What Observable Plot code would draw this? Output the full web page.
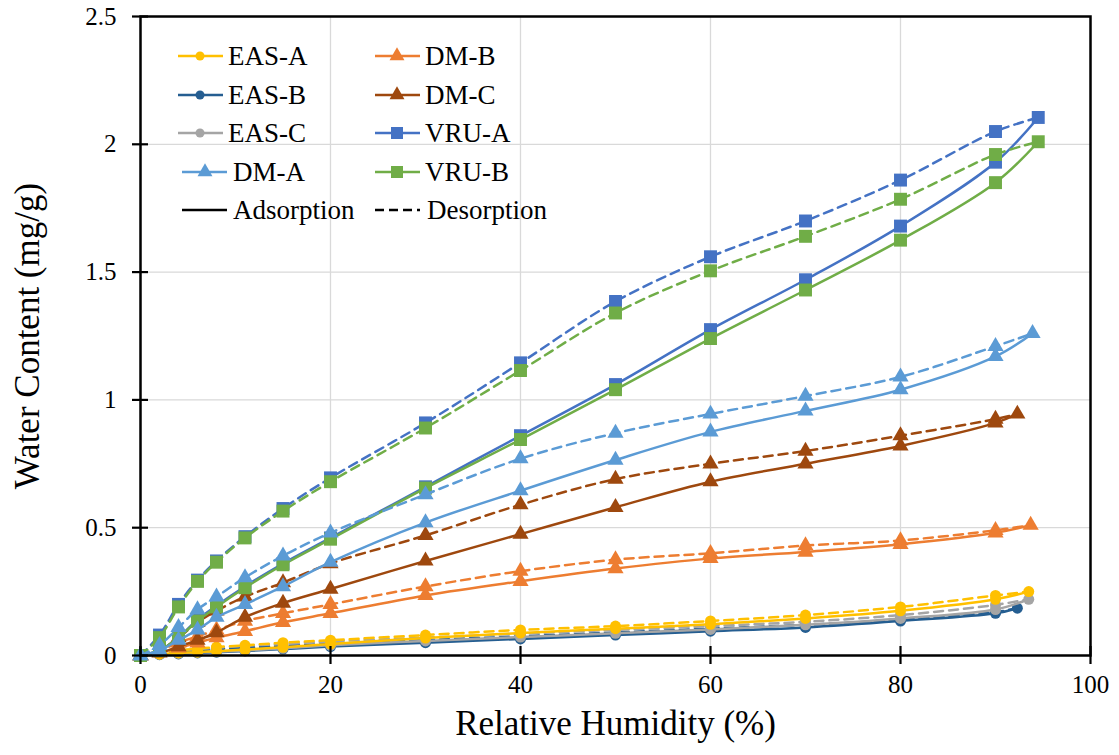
<!DOCTYPE html>
<html>
<head>
<meta charset="utf-8">
<script src="https://cdn.jsdelivr.net/npm/d3@7"></script>
<script src="https://cdn.jsdelivr.net/npm/@observablehq/plot@0.6"></script>
<style>
  html, body { margin: 0; padding: 0; background: #fff; }
  #wrap { position: relative; width: 1119px; height: 755px; }
  #legend { position: absolute; left: 0; top: 0; pointer-events: none; }
</style>
</head>
<body>
<div id="wrap"></div>
<script>
// ---- data ----
const rh = [0, 2, 4, 6, 8, 11, 15, 20, 30, 40, 50, 60, 70, 80, 90];
const names = ["EAS-A", "EAS-B", "EAS-C", "DM-A", "DM-B", "DM-C", "VRU-A", "VRU-B"];
const colors = ["#FFC000", "#255E91", "#A5A5A5", "#5B9BD5", "#ED7D31", "#9E480E", "#4472C4", "#70AD47"];
const symbols = ["circle", "circle", "circle", "triangle", "triangle", "triangle", "square", "square"];
const rhTop = [93.5, 92.3, 93.5, 93.9, 93.7, 92.3, 94.5, 94.5];
const wcTop = [0.25, 0.185, 0.22, 1.26, 0.51, 0.945, 2.105, 2.01];

const easA_ads = [0, 0.005, 0.01, 0.013, 0.017, 0.023, 0.032, 0.045, 0.068, 0.088, 0.105, 0.122, 0.145, 0.175, 0.22];
const easA_des = [0, 0.012, 0.02, 0.027, 0.033, 0.04, 0.05, 0.06, 0.08, 0.1, 0.115, 0.135, 0.158, 0.19, 0.235];
const easB_ads = [0, 0.003, 0.006, 0.01, 0.013, 0.018, 0.025, 0.035, 0.05, 0.065, 0.08, 0.095, 0.11, 0.135, 0.165];
const easB_des = [0, 0.008, 0.015, 0.02, 0.025, 0.03, 0.038, 0.045, 0.06, 0.075, 0.09, 0.105, 0.12, 0.14, 0.17];
const easC_ads = [0, 0.004, 0.008, 0.012, 0.015, 0.02, 0.028, 0.04, 0.057, 0.072, 0.087, 0.102, 0.12, 0.145, 0.18];
const easC_des = [0, 0.012, 0.02, 0.025, 0.03, 0.038, 0.045, 0.055, 0.07, 0.085, 0.1, 0.115, 0.132, 0.158, 0.198];
const dmA_ads = [0, 0.02, 0.06, 0.1, 0.15, 0.2, 0.27, 0.365, 0.52, 0.645, 0.765, 0.875, 0.957, 1.04, 1.17];
const dmA_des = [0, 0.04, 0.11, 0.18, 0.23, 0.305, 0.39, 0.48, 0.63, 0.77, 0.87, 0.945, 1.015, 1.09, 1.21];
const dmB_ads = [0, 0.012, 0.03, 0.05, 0.07, 0.095, 0.13, 0.165, 0.235, 0.29, 0.34, 0.38, 0.405, 0.435, 0.48];
const dmB_des = [0, 0.02, 0.05, 0.075, 0.1, 0.135, 0.165, 0.2, 0.27, 0.33, 0.375, 0.40, 0.43, 0.45, 0.49];
const dmC_ads = [0, 0.01, 0.035, 0.06, 0.09, 0.15, 0.205, 0.26, 0.37, 0.475, 0.58, 0.68, 0.75, 0.82, 0.91];
const dmC_des = [0, 0.02, 0.07, 0.13, 0.175, 0.23, 0.285, 0.36, 0.47, 0.59, 0.69, 0.75, 0.80, 0.86, 0.925];
const vruA_ads = [0, 0.02, 0.07, 0.14, 0.195, 0.27, 0.36, 0.46, 0.66, 0.86, 1.06, 1.275, 1.47, 1.68, 1.93];
const vruA_des = [0, 0.08, 0.2, 0.295, 0.37, 0.465, 0.575, 0.695, 0.91, 1.145, 1.385, 1.56, 1.70, 1.86, 2.05];
const vruB_ads = [0, 0.02, 0.07, 0.135, 0.19, 0.265, 0.355, 0.455, 0.655, 0.845, 1.04, 1.24, 1.43, 1.625, 1.85];
const vruB_des = [0, 0.07, 0.19, 0.29, 0.365, 0.46, 0.565, 0.68, 0.89, 1.115, 1.34, 1.505, 1.64, 1.785, 1.96];

const adsAll = [easA_ads, easB_ads, easC_ads, dmA_ads, dmB_ads, dmC_ads, vruA_ads, vruB_ads];
const desAll = [easA_des, easB_des, easC_des, dmA_des, dmB_des, dmC_des, vruA_des, vruB_des];

const xTicks = [0, 20, 40, 60, 80, 100];
const yTicks = [0, 0.5, 1, 1.5, 2, 2.5];
const xTitle = "Relative Humidity (%)";
const yTitle = "Water Content (mg/g)";
const kindLabels = ["Adsorption", "Desorption"];

const font = "'Liberation Serif', 'Times New Roman', serif";

// ---- build tidy rows ----
const rows = [];
names.forEach((n, i) => {
  rh.forEach((x, j) => rows.push({name: n, kind: "ads", x, y: adsAll[i][j]}));
  rows.push({name: n, kind: "ads", x: rhTop[i], y: wcTop[i], top: true});
  rh.forEach((x, j) => rows.push({name: n, kind: "des", x, y: desAll[i][j]}));
  rows.push({name: n, kind: "des", x: rhTop[i], y: wcTop[i], top: true});
});

const symR = {circle: 5.5, triangle: 6, square: 7.3};
const drawOrder = ["EAS-B", "EAS-C", "EAS-A", "DM-B", "DM-C", "VRU-A", "VRU-B", "DM-A"];

const seriesMarks = [];
drawOrder.forEach(n => {
  const i = names.indexOf(n);
  const ads = rows.filter(d => d.name === n && d.kind === "ads");
  const des = rows.filter(d => d.name === n && d.kind === "des");
  seriesMarks.push(
    Plot.line(ads, {x: "x", y: "y", stroke: "name", strokeWidth: 2.5, curve: "catmull-rom"}),
    Plot.line(des, {x: "x", y: "y", stroke: "name", strokeWidth: 2.5, strokeDasharray: "9,6", curve: "catmull-rom"}),
    Plot.dot(des.filter(d => !d.top), {x: "x", y: "y", symbol: "name", fill: "name", r: symR[symbols[i]], stroke: "none"}),
    Plot.dot(ads, {x: "x", y: "y", symbol: "name", fill: "name", r: symR[symbols[i]], stroke: "none"})
  );
});

const chart = Plot.plot({
  width: 1119,
  height: 755,
  marginLeft: 140,
  marginRight: 29,
  marginTop: 16,
  marginBottom: 100,
  style: {fontFamily: font, color: "#000", background: "#fff"},
  x: {domain: [0, 100]},
  y: {domain: [0, 2.5]},
  color: {domain: names, range: colors},
  symbol: {domain: names, range: symbols},
  marks: [
    Plot.gridX([20, 40, 60, 80], {stroke: "#d9d9d9", strokeOpacity: 1, strokeWidth: 1.3}),
    Plot.gridY([0.5, 1, 1.5, 2], {stroke: "#d9d9d9", strokeOpacity: 1, strokeWidth: 1.3}),
    ...seriesMarks,
    Plot.frame({stroke: "#000", strokeWidth: 2.5}),
    Plot.axisX(xTicks, {tickSize: 18, dy: -9, tickFormat: () => "", strokeWidth: 2.2, label: null}),
    Plot.axisX(xTicks, {tickSize: 0, tickPadding: 20, fontSize: 25, label: null, fill: "#000", fontFamily: font}),
    Plot.axisY(yTicks, {tickSize: 16, dx: 8, tickFormat: () => "", strokeWidth: 2.2, label: null}),
    Plot.axisY(yTicks, {tickSize: 0, tickPadding: 24, fontSize: 25, label: null, fill: "#000", fontFamily: font, tickFormat: d => String(d)}),
    Plot.text([xTitle], {frameAnchor: "bottom", lineAnchor: "middle", textAnchor: "middle", dy: 68, fontSize: 35, fill: "#000", fontFamily: font, text: d => d}),
    Plot.text([yTitle], {frameAnchor: "left", lineAnchor: "middle", textAnchor: "middle", dx: -113, rotate: -90, fontSize: 35, fill: "#000", fontFamily: font, text: d => d})
  ]
});

const wrap = document.getElementById("wrap");
wrap.appendChild(chart);

// ---- legend overlay ----
const leg = d3.create("svg").attr("id", "legend").attr("width", 1119).attr("height", 755);
const rowsY = [56, 95, 133, 172, 210];
const legItems = [
  {col: 0, row: 0, i: 0}, {col: 0, row: 1, i: 1}, {col: 0, row: 2, i: 2}, {col: 0, row: 3, i: 3},
  {col: 1, row: 0, i: 4}, {col: 1, row: 1, i: 5}, {col: 1, row: 2, i: 6}, {col: 1, row: 3, i: 7}
];
const colGeom = [
  [{x1: 178, x2: 223, mx: 200, tx: 228}, {x1: 178, x2: 223, mx: 200, tx: 228}, {x1: 178, x2: 223, mx: 200, tx: 228}, {x1: 182, x2: 227, mx: 205, tx: 233}, {x1: 182, x2: 227, mx: 205, tx: 233}],
  [{x1: 375, x2: 420, mx: 397, tx: 425}, {x1: 375, x2: 420, mx: 397, tx: 425}, {x1: 375, x2: 420, mx: 397, tx: 425}, {x1: 375, x2: 420, mx: 397, tx: 425}, {x1: 375, x2: 420, mx: 397, tx: 427}]
];
const legSym = {circle: d3.symbolCircle, triangle: d3.symbolTriangle, square: d3.symbolSquare};
const legSize = {circle: 64, triangle: 97, square: 144};
legItems.forEach(it => {
  const g = colGeom[it.col][it.row];
  const y = rowsY[it.row];
  leg.append("line").attr("x1", g.x1).attr("x2", g.x2).attr("y1", y).attr("y2", y)
    .attr("stroke", colors[it.i]).attr("stroke-width", 2.5);
  leg.append("path").attr("transform", `translate(${g.mx},${y})`)
    .attr("d", d3.symbol(legSym[symbols[it.i]], legSize[symbols[it.i]])())
    .attr("fill", colors[it.i]);
  leg.append("text").attr("x", g.tx).attr("y", y).attr("dy", "0.34em")
    .attr("font-family", font).attr("font-size", 27).attr("fill", "#000").text(names[it.i]);
});
{
  const g0 = colGeom[0][4], g1 = colGeom[1][4], y = rowsY[4];
  leg.append("line").attr("x1", g0.x1).attr("x2", g0.x2).attr("y1", y).attr("y2", y).attr("stroke", "#000").attr("stroke-width", 2.5);
  leg.append("text").attr("x", g0.tx).attr("y", y).attr("dy", "0.34em").attr("font-family", font).attr("font-size", 27).attr("fill", "#000").text(kindLabels[0]);
  leg.append("line").attr("x1", g1.x1).attr("x2", g1.x2).attr("y1", y).attr("y2", y).attr("stroke", "#000").attr("stroke-width", 2.5).attr("stroke-dasharray", "9,5");
  leg.append("text").attr("x", g1.tx).attr("y", y).attr("dy", "0.34em").attr("font-family", font).attr("font-size", 27).attr("fill", "#000").text(kindLabels[1]);
}
wrap.appendChild(leg.node());
</script>
</body>
</html>
